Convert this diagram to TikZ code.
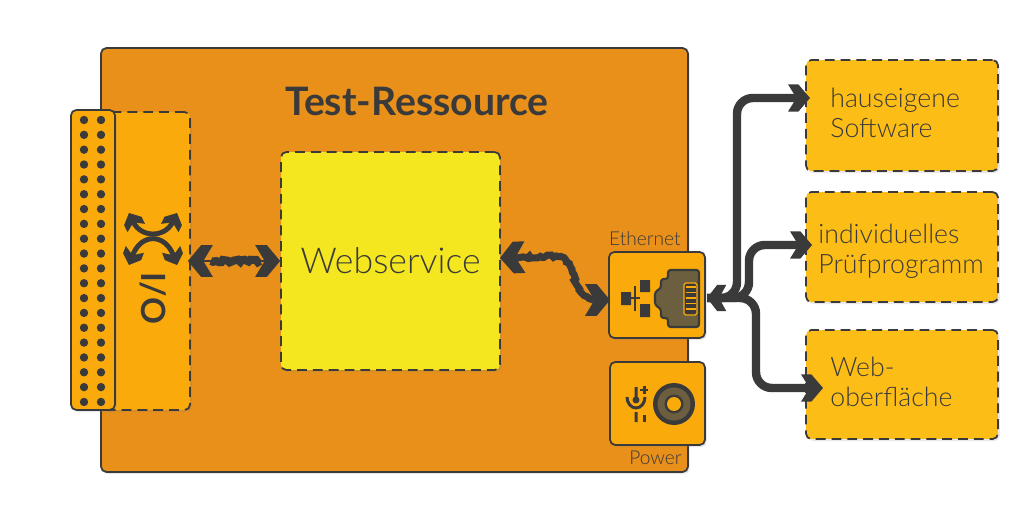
\documentclass[tikz,border=0pt]{standalone}
\usepackage{fontspec}
\setmainfont{Lato}[UprightFont=* Light, BoldFont=* Bold]
\usetikzlibrary{arrows.meta, calc, shadows, decorations.pathmorphing}
\definecolor{ink}{HTML}{3A3A3A}
\definecolor{resfill}{HTML}{E8901A}
\definecolor{iofill}{HTML}{FAAB0B}
\definecolor{webfill}{HTML}{F5E71F}
\definecolor{appfill}{HTML}{FDBD17}
\definecolor{hatchfill}{HTML}{6B5F3F}
\pgfdeclarearrow{
    name=Chev,
    defaults={length=14.2pt, width=18pt},
    setup code={
        \pgfarrowssettipend{0pt}
        \pgfarrowssetlineend{-.6\pgfarrowlength}
        \pgfarrowssetvisualbackend{-\pgfarrowlength}
        \pgfarrowssetbackend{-\pgfarrowlength}
        \pgfarrowssavethe\pgfarrowlength
        \pgfarrowssavethe\pgfarrowwidth
    },
    drawing code={
        \pgfpathmoveto{\pgfpointorigin}
        \pgfpathlineto{\pgfpoint{-.53\pgfarrowlength}{.5\pgfarrowwidth}}
        \pgfpathlineto{\pgfpoint{-\pgfarrowlength}{.5\pgfarrowwidth}}
        \pgfpathlineto{\pgfpoint{-.62\pgfarrowlength}{0pt}}
        \pgfpathlineto{\pgfpoint{-\pgfarrowlength}{-.5\pgfarrowwidth}}
        \pgfpathlineto{\pgfpoint{-.53\pgfarrowlength}{-.5\pgfarrowwidth}}
        \pgfpathclose
        \pgfusepathqfill
    },
    parameters={\the\pgfarrowlength,\the\pgfarrowwidth}
}
\tikzset{
    shaky/.style={draw=ink, decorate, decoration={random steps, segment length=1.5pt, amplitude=.8pt}},
    softshade/.style={drop shadow={shadow xshift=1pt, shadow yshift=-1.2pt, opacity=.18}},
    blk/.style={inner sep=0pt, rounded corners=3pt, draw=ink, line width=1pt, softshade},
    dashblk/.style={blk, dash pattern=on 5.6pt off 3.4pt},
    txt/.style={text=ink, inner sep=0pt, font=\fontsize{15.2}{17}\selectfont, align=left, anchor=west},
    smalltxt/.style={txt, font=\fontsize{10.9}{13}\selectfont, anchor=east},
    wire/.style={draw=ink, line width=4.8pt},
    link/.style={draw=ink, line width=1.5pt, Chev-Chev},
    tiny/.style={ink, line width=2.8pt, {Chev[length=9.5pt, width=11pt]}-{Chev[length=9.5pt, width=11pt]}},
    branch/.style={wire, -{Chev[length=12.5pt, width=15.5pt]}, rounded corners=9pt},
    bd/.style={x=0.02cm, y=-0.02cm}
}
\begin{document}
\begin{tikzpicture}[bd]
    \path[use as bounding box] (0,0) rectangle (1024,520);

    \node[blk, fill=resfill, minimum width=11.74cm, minimum height=8.48cm] (res) at (394.5,260) {};
    \node[font=\fontsize{22.3}{26}\selectfont\bfseries, text=ink, inner sep=0pt] (title) at (417,101) {Test-Ressource};

    % I/O card with its pin strip
    \node[dashblk, fill=iofill, minimum width=1.76cm, minimum height=5.96cm] (io) at (146,261) {};
    \node[blk, fill=iofill, minimum width=0.88cm, minimum height=6cm] (strip) at (93,260) {};
    \foreach \r in {0,...,19}
        \foreach \c in {84,101}
            \fill[ink] (\c,{120+14.84*\r}) circle (4.2);
    \node[font=\fontsize{19}{22}\selectfont\bfseries, text=ink, inner sep=0pt, rotate=-90] (iolabel) at (153,298) {I/O};
    \draw[tiny] (129,213) .. controls (141,238) and (165,238) .. (177,213);
    \draw[tiny] (129,265) .. controls (141,233) and (165,233) .. (177,265);

    \node[dashblk, fill=webfill, minimum width=4.38cm, minimum height=4.36cm,
        font=\fontsize{20.3}{25}\selectfont, text=ink] (web) at (390.5,261) {\raisebox{1pt}{Webservice}};

    % Ethernet socket
    \node[blk, fill=iofill, minimum width=1.92cm, minimum height=1.72cm] (eth) at (657,295) {};
    \node[smalltxt] (ethlabel) at (681,239) {Ethernet};
    \fill[ink] (621,292) rectangle (631,305) (640,280) rectangle (650,292) (640,304) rectangle (650,317);
    \draw[ink, line width=1.3pt] (631,298) -- (640,298) (635,286) -- (635,311);
    \draw[ink, line width=1.2pt, fill=hatchfill, rounded corners=1.5pt] (668,270) -- (699,270) -- (699,327) -- (668,327)
        -- (668,318) -- (661,318) -- (661,309) -- (655,305) -- (655,292) -- (661,288) -- (661,279) -- (668,279) -- cycle;
    \draw[iofill, fill=ink, line width=.7pt, rounded corners=1pt] (684,283) rectangle (697,315);
    \foreach \b in {287,292.5,298,303.5,309}
        \draw[iofill, line width=.8pt] (685.5,\b) -- (695.5,\b);

    % Power socket
    \node[blk, fill=iofill, minimum width=1.90cm, minimum height=1.66cm] (pwr) at (657.5,403.5) {};
    \node[smalltxt] (pwrlabel) at (682,458) {Power};
    \fill[ink] (674,404) circle (21);
    \fill[hatchfill] (674,404) circle (16.5);
    \fill[ink] (674,404) circle (9.5);
    \fill[iofill] (674,404) circle (7);
    \draw[ink, line width=1.7pt] (636,387) -- (636,400) (636,412) -- (636,422) (627,397) arc (180:0:9 and 11);
    \fill[ink] (636,400) circle (3.5);
    \draw[ink, line width=1.7pt] (640,390) -- (648,390) (644,386) -- (644,394) (644,415) -- (644,422);

    % application boxes
    \node[dashblk, fill=appfill, minimum width=3.84cm, minimum height=2.22cm] (soft) at (902,115.5) {};
    \node[dashblk, fill=appfill, minimum width=3.84cm, minimum height=2.20cm] (prog) at (902,247) {};
    \node[dashblk, fill=appfill, minimum width=3.84cm, minimum height=2.18cm] (gui) at (902,384.5) {};
    \node[txt] (softlabel) at (830,113) {hauseigene\\Software};
    \node[txt] (proglabel) at (818,251) {individuelles\\Prüfprogramm};
    \node[txt] (guilabel) at (830,382) {Web-\\oberfläche};

    % connections
    \coordinate (jack) at (707,298);
    \coordinate (webout) at (500,258);
    \coordinate (ethin) at (610,300);
    \coordinate (softin) at (810,98);
    \coordinate (progin) at (812,245);
    \coordinate (guiin) at (823,388);
    \draw[shaky, line width=4.6pt] ([xshift=.4cm]io.east) -- ([xshift=-.4cm]web.west);
    \draw[link] ([xshift=-.06cm]io.east) -- (web.west);
    \draw[shaky, line width=4pt] (516,258) -- (556,256) .. controls (578,256) and (566,290) .. (594,300);
    \draw[link] (webout) -- (556,256) .. controls (578,256) and (566,300) .. (ethin);
    \draw[wire, {Chev[length=11pt, width=15pt]}-] (jack) -- ++(25,0);
    \draw[branch] (jack) -- ++(30,0) |- (softin);
    \draw[branch] (jack) -- ++(42,0) |- (progin);
    \draw[branch] (jack) -- ++(49,0) |- (guiin);
\end{tikzpicture}
\end{document}
